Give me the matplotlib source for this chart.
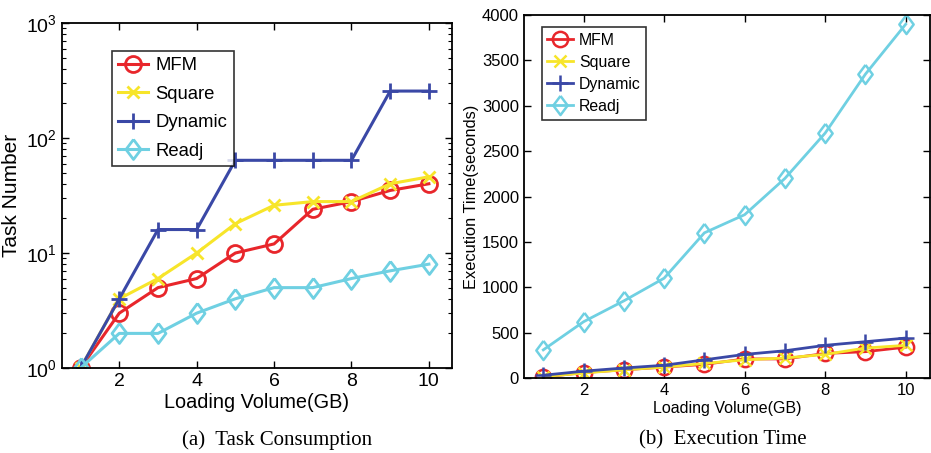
import numpy as np
import matplotlib.pyplot as plt
from matplotlib.ticker import LogLocator, NullFormatter

plt.rcParams['font.family'] = ['Liberation Sans', 'DejaVu Sans']
plt.rcParams['mathtext.fontset'] = 'custom'
plt.rcParams['mathtext.rm'] = 'Liberation Sans'

# Data
volume = [1, 2, 3, 4, 5, 6, 7, 8, 9, 10]
series = ["MFM", "Square", "Dynamic", "Readj"]

# (a) task number
task_mfm = [1, 3, 5, 6, 10, 12, 24, 28, 35, 40]
task_square = [1, 4, 6, 10, 18, 26, 28, 28, 40, 46]
task_dynamic = [1, 4, 16, 16, 64, 64, 64, 64, 256, 256]
task_readj = [1, 2, 2, 3, 4, 5, 5, 6, 7, 8]

# (b) execution time (seconds)
time_mfm = [10, 60, 90, 120, 150, 210, 210, 270, 290, 340]
time_square = [15, 55, 90, 120, 160, 200, 220, 260, 330, 360]
time_dynamic = [30, 75, 110, 140, 200, 260, 300, 360, 400, 440]
time_readj = [310, 620, 850, 1100, 1600, 1800, 2200, 2700, 3350, 3900]

colors = ["#e8262b", "#f7e52a", "#3a48a6", "#6fd0e2"]
diamond = [(0, 1), (0.75, 0), (0, -1), (-0.75, 0), (0, 1)]
markers = ["o", "x", "+", diamond]
size_scale = [1.0, 0.8, 1.0, 1.25]

fig = plt.figure(figsize=(9.31, 4.53), dpi=100)
ax1 = fig.add_axes([0.0666, 0.1876, 0.419, 0.7616])
ax2 = fig.add_axes([0.5628, 0.1656, 0.436, 0.801])


def draw(ax, data, lw, ms, mew):
    for name, y, c, m, k in zip(series, data, colors, markers, size_scale):
        ax.plot(volume, y, color=c, marker=m, markersize=ms * k, lw=lw,
                markerfacecolor="none", markeredgecolor=c, markeredgewidth=mew,
                label=name)


draw(ax1, [task_mfm, task_square, task_dynamic, task_readj], 2.2, 11.5, 2.0)
ax1.set_yscale("log")
ax1.set_ylim(1, 1000)
ax1.set_xlim(0.52, 10.6)
ax1.set_xticks([2, 4, 6, 8, 10])
ax1.yaxis.set_minor_locator(LogLocator(base=10, subs=np.arange(2, 10)))
ax1.yaxis.set_minor_formatter(NullFormatter())
ax1.set_xlabel("Loading Volume(GB)", fontsize=14.3, labelpad=2)
ax1.set_ylabel("Task Number", fontsize=15, labelpad=4)
ax1.tick_params(labelsize=14, direction="in", top=True, right=True, length=5, width=1)
ax1.tick_params(which="minor", direction="in", right=True, length=3, width=0.8)
leg1 = ax1.legend(loc="upper left", bbox_to_anchor=(0.128, 0.919), fontsize=13.3,
                  frameon=True, fancybox=False, edgecolor="black", handlelength=1.6,
                  handletextpad=0.4, borderpad=0.35, labelspacing=0.62, borderaxespad=0)
leg1.get_frame().set_linewidth(1.2)

draw(ax2, [time_mfm, time_square, time_dynamic, time_readj], 2.0, 11, 1.8)
ax2.set_ylim(0, 4000)
ax2.set_xlim(0.52, 10.6)
ax2.set_xticks([2, 4, 6, 8, 10])
ax2.set_yticks(np.arange(0, 4001, 500))
ax2.set_xlabel("Loading Volume(GB)", fontsize=11.5, labelpad=2)
ax2.set_ylabel("Execution Time(seconds)", fontsize=11.8, labelpad=2)
ax2.tick_params(labelsize=12, direction="in", top=True, right=True, length=5, width=1)
leg2 = ax2.legend(loc="upper left", bbox_to_anchor=(0.044, 0.967), fontsize=11.4,
                  frameon=True, fancybox=False, edgecolor="black", handlelength=1.6,
                  handletextpad=0.4, borderpad=0.35, labelspacing=0.45, borderaxespad=0)
leg2.get_frame().set_linewidth(1.2)

for ax in (ax1, ax2):
    for s in ax.spines.values():
        s.set_linewidth(1.3)

fig.text(277 / 931, 1 - 440 / 453, "(a)  Task Consumption", family="Liberation Serif",
         fontsize=15, ha="center", va="center")
fig.text(723 / 931, 1 - 440 / 453, "(b)  Execution Time", family="Liberation Serif",
         fontsize=15, ha="center", va="center")

fig.savefig("out.png", dpi=100)
